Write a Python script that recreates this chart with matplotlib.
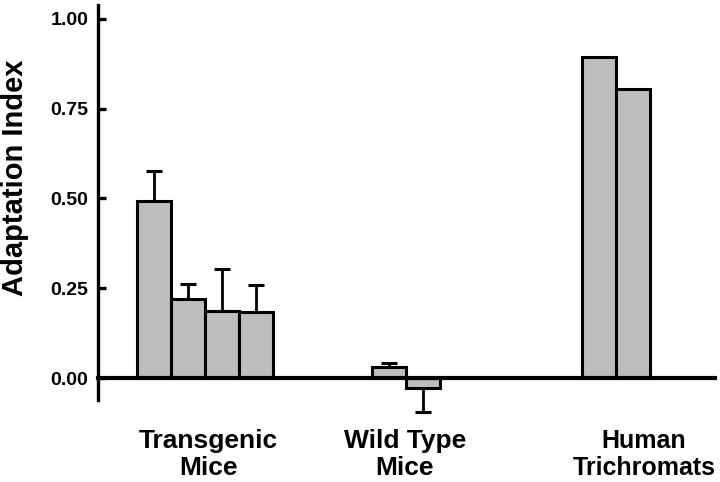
import matplotlib
matplotlib.use("Agg")
import matplotlib.pyplot as plt
import numpy as np

# Data
groups = ["Transgenic\nMice", "Wild Type\nMice", "Human\nTrichromats"]
transgenic_vals = [0.493, 0.220, 0.187, 0.184]
transgenic_err = [0.084, 0.042, 0.117, 0.075]
wildtype_vals = [0.031, -0.028]
wildtype_err = [0.011, 0.067]
human_vals = [0.894, 0.805]
human_err = [0.0, 0.0]
yticks = [0.00, 0.25, 0.50, 0.75, 1.00]

# Layout (bar units)
group_starts = [1.15, 8.06, 14.24]
label_x = [3.26, 9.03, 16.06]
bar_w = 1.0

plt.rcParams['font.family'] = ['Liberation Sans', 'DejaVu Sans']
fig = plt.figure(figsize=(7.2, 4.82), dpi=100)
ax = fig.add_axes([0.136, 0.170, 0.857, 0.820])

fill = '#bdbdbd'
all_vals = [transgenic_vals, wildtype_vals, human_vals]
all_errs = [transgenic_err, wildtype_err, human_err]
for start, vals, errs in zip(group_starts, all_vals, all_errs):
    vals = np.array(vals)
    errs = np.array(errs)
    x = start + bar_w / 2 + np.arange(len(vals)) * bar_w
    ax.bar(x, vals, width=bar_w, color=fill, edgecolor='black',
           linewidth=2.2, zorder=3)
    lower = np.where(vals < 0, errs, 0)
    upper = np.where(vals >= 0, errs, 0)
    has = errs > 0
    if has.any():
        _, caps, bars = ax.errorbar(x[has], vals[has], yerr=[lower[has], upper[has]],
                                    fmt='none', ecolor='black', elinewidth=2.0,
                                    capsize=5.5, capthick=2.2, zorder=2)
        for c in caps:
            c.set_clip_on(False)
        for b in bars:
            b.set_clip_on(False)

ax.set_xlim(0, 18.15)
ax.set_ylim(-0.061, 1.039)

for s in ['top', 'right']:
    ax.spines[s].set_visible(False)
ax.spines['bottom'].set_position(('data', 0))
ax.spines['bottom'].set_linewidth(3.0)
ax.spines['bottom'].set_zorder(4)
ax.spines['left'].set_linewidth(2.4)

ax.set_xticks([])
ax.set_yticks(yticks)
ax.set_yticklabels([f"{v:.2f}" for v in yticks], fontsize=14, fontweight='bold')
ax.tick_params(axis='y', direction='in', length=6, width=2.4, pad=7)

ax.set_ylabel("Adaptation Index", fontsize=21, fontweight='bold')
ax.yaxis.set_label_coords(-0.112, 0.562)

trans = ax.get_xaxis_transform()
sizes = [19, 19, 18]
for lx, g, fs in zip(label_x, groups, sizes):
    ax.text(lx, -0.072, g, transform=trans, ha='center', va='top',
            fontsize=fs, fontweight='bold', linespacing=1.2, clip_on=False)

fig.savefig("out.png", dpi=100)
